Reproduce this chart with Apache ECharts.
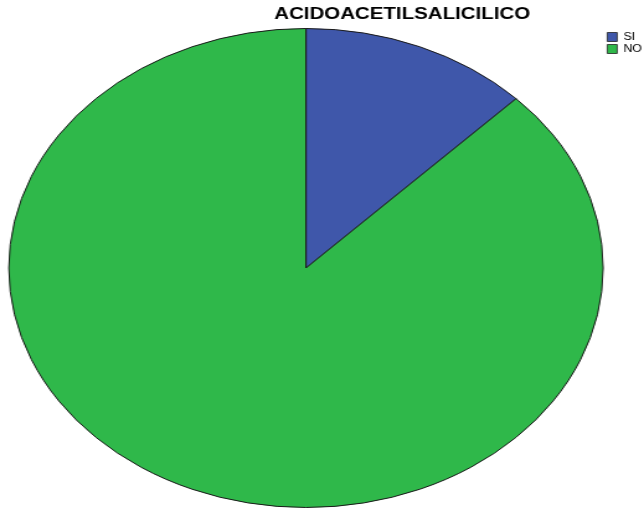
<!DOCTYPE html>
<html>
<head>
<meta charset="utf-8">
<script src="https://cdn.jsdelivr.net/npm/echarts@6/dist/echarts.min.js"></script>
<style>
  html, body { margin: 0; padding: 0; background: #fff; overflow: hidden; }
  /* the chart is drawn narrower and stretched horizontally, giving the oval pie */
  #chart {
    position: absolute; left: 0; top: 0;
    width: 519px; height: 510px;
    transform: scaleX(1.2408);
    transform-origin: 0 0;
  }
</style>
</head>
<body>
<div id="chart"></div>
<script>
const titleText = 'ACIDOACETILSALICILICO';
const categories = ['SI', 'NO'];
const counts = [5, 35];
const colors = ['#3f57aa', '#2fb84a'];

const chart = echarts.init(document.getElementById('chart'), null, { renderer: 'canvas' });

const pieData = categories.map((name, i) => ({
  name: name,
  value: counts[i],
  itemStyle: { color: colors[i] }
}));

chart.setOption({
  backgroundColor: '#ffffff',
  animation: false,
  title: {
    text: titleText,
    left: 221,
    top: 6,
    padding: 0,
    textStyle: {
      fontFamily: 'Liberation Sans, Arial, sans-serif',
      fontWeight: 'bold',
      fontSize: 16.5,
      color: '#000'
    }
  },
  legend: {
    orient: 'vertical',
    left: 489,
    top: 32,
    padding: 0,
    itemGap: 2,
    itemWidth: 8,
    itemHeight: 9,
    icon: 'rect',
    data: categories,
    itemStyle: { borderColor: '#222', borderWidth: 0.8 },
    textStyle: {
      fontFamily: 'Liberation Sans, Arial, sans-serif',
      fontSize: 10,
      lineHeight: 9,
      color: '#000'
    }
  },
  series: [{
    type: 'pie',
    center: [246.6, 268],
    radius: [0, 239.5],
    startAngle: 90,
    clockwise: true,
    label: { show: false },
    labelLine: { show: false },
    silent: true,
    itemStyle: { borderColor: '#1a1a1a', borderWidth: 1 },
    emphasis: { disabled: true },
    data: pieData
  }]
});
</script>
</body>
</html>
